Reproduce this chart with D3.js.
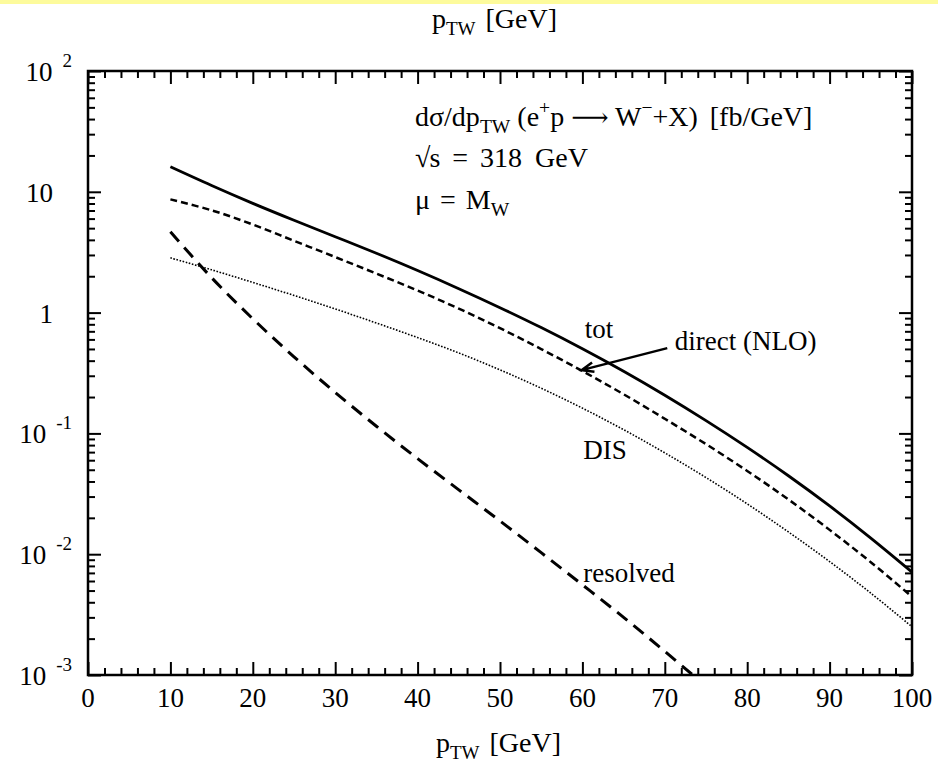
<!DOCTYPE html>
<html>
<head>
<meta charset="utf-8">
<script src="https://cdn.jsdelivr.net/npm/d3@7"></script>
<style>
  body { margin: 0; background: #fff; }
  svg { display: block; font-family: "Liberation Serif", "Times New Roman", serif; }
</style>
</head>
<body>
<div id="chart"></div>
<script>
// values: p_TW [GeV] and dsigma/dp_TW [fb/GeV]
const pT = [10, 15, 20, 25, 30, 35, 40, 45, 50, 55, 60, 65, 70, 75, 80, 85, 90, 95, 100];
const tot = [16.1, 11.27, 8.02, 5.81, 4.25, 3.10, 2.23, 1.578, 1.099, 0.752, 0.502, 0.327, 0.207, 0.1276, 0.0766, 0.0446, 0.0251, 0.0136, 0.00711];
const direct = [8.65, 7.03, 5.36, 3.93, 2.884, 2.104, 1.524, 1.079, 0.743, 0.499, 0.328, 0.211, 0.1321, 0.0815, 0.0489, 0.0284, 0.0159, 0.00859, 0.00444];
const dis = [2.84, 2.26, 1.778, 1.387, 1.072, 0.820, 0.621, 0.4634, 0.3357, 0.2366, 0.1618, 0.1074, 0.0690, 0.0431, 0.0261, 0.01528, 0.00869, 0.00476, 0.00251];
const resolvedPT = [10, 15, 20, 25, 30, 35, 40, 45, 50, 55, 60, 65, 70, 75];
const resolved = [4.67, 1.945, 0.889, 0.4305, 0.2183, 0.1146, 0.0618, 0.0341, 0.01884, 0.0103, 0.00558, 0.0030, 0.00157, 0.000807];

const xTicks = [0, 10, 20, 30, 40, 50, 60, 70, 80, 90, 100];
const yDecades = [1e-3, 1e-2, 1e-1, 1, 10, 100];
const yBase = ["10", "10", "10", "1", "10", "10"];
const yExp = ["-3", "-2", "-1", "", "", "2"];

// curve labels, placed in data coordinates
const curveLabels = [
    { text: "tot", p: 60.3, v: 0.615 },
    { text: "direct (NLO)", p: 71.2, v: 0.49 },
    { text: "DIS", p: 60.1, v: 0.0612 },
    { text: "resolved", p: 60.1, v: 0.00588 }
];
// arrow from the "direct (NLO)" label to its curve
const arrowFrom = { p: 70.3, v: 0.508 },
      arrowTo = { p: 59.9, v: 0.334 };

const width = 938, height = 765;
const padLeft = 88, padRight = 912, padTop = 71, padBottom = 675;

const svg = d3.select("#chart").append("svg")
    .attr("width", width)
    .attr("height", height);

// thin yellow band along the top edge
svg.append("rect")
    .attr("x", 0).attr("y", 0)
    .attr("width", width).attr("height", 4)
    .attr("fill", "#fdfb9c");

// scales
// ------------------------------------------------------
const x = d3.scaleLinear().domain([0, 100]).range([padLeft, padRight]);
const y = d3.scaleLog().domain([1e-3, 1e2]).range([padBottom, padTop]);

// axes (all ticks point inwards)
// ------------------------------------------------------
const xMinor = d3.range(2, 100, 2).filter(v => v % 10 !== 0);
const yMinor = [];
yDecades.slice(0, -1).forEach(d => { for (let k = 2; k <= 9; k++) yMinor.push(d * k); });

function addAxis(axis, tx, ty) {
    const g = svg.append("g")
        .attr("transform", `translate(${tx},${ty})`)
        .call(axis);
    g.select(".domain").remove();
    g.selectAll(".tick line").attr("stroke", "#000").attr("stroke-width", 2);
    g.selectAll(".tick text").remove();
    return g;
}

addAxis(d3.axisBottom(x).tickValues(xTicks).tickSize(-13), 0, padBottom);
addAxis(d3.axisBottom(x).tickValues(xMinor).tickSize(-7), 0, padBottom);
addAxis(d3.axisTop(x).tickValues(xTicks).tickSize(-13), 0, padTop);
addAxis(d3.axisTop(x).tickValues(xMinor).tickSize(-7), 0, padTop);
addAxis(d3.axisLeft(y).tickValues(yDecades).tickSize(-13), padLeft, 0);
addAxis(d3.axisLeft(y).tickValues(yMinor).tickSize(-7), padLeft, 0);
addAxis(d3.axisRight(y).tickValues(yDecades).tickSize(-13), padRight, 0);
addAxis(d3.axisRight(y).tickValues(yMinor).tickSize(-7), padRight, 0);

// frame
svg.append("rect")
    .attr("x", padLeft).attr("y", padTop)
    .attr("width", padRight - padLeft).attr("height", padBottom - padTop)
    .attr("fill", "none")
    .attr("stroke", "#000")
    .attr("stroke-width", 2.5);

// tick labels
svg.append("g").selectAll("text")
    .data(xTicks)
    .join("text")
        .attr("x", d => x(d))
        .attr("y", padBottom + 32)
        .attr("text-anchor", "middle")
        .attr("font-size", 27)
        .text(d => d);

const yLabelG = svg.append("g");
yDecades.forEach((d, i) => {
    const t = yLabelG.append("text")
        .attr("x", yExp[i] ? padLeft - 16 : padLeft - 35)
        .attr("y", y(d) + 10)
        .attr("text-anchor", "end")
        .attr("font-size", 27);
    t.append("tspan").text(yBase[i]);
    if (yExp[i]) {
        t.append("tspan")
            .attr("dx", 10)
            .attr("dy", -14)
            .attr("font-size", 19)
            .text(yExp[i]);
    }
});

// rich text helper: parts with optional sub/sup, size and horizontal nudge
function richText(g, parts, size) {
    const t = g.append("text").attr("font-size", size);
    let shift = 0;
    parts.forEach(part => {
        const target = part.sub ? 7 : part.sup ? -12 : (part.dy || 0);
        const span = t.append("tspan")
            .attr("dx", part.dx || 0)
            .attr("dy", target - shift)
            .attr("font-size", part.size || (part.sub || part.sup ? size * 0.7 : size))
            .text(part.t);
        if (part.font) span.attr("font-family", part.font);
        shift = target;
    });
    return t;
}

// axis titles, top and bottom
const axisTitle = [{ t: "p" }, { t: "TW", sub: true, size: 19 }, { t: " [GeV]", dx: 3 }];
richText(svg.append("g").attr("transform", "translate(432,28)"), axisTitle, 28);
richText(svg.append("g").attr("transform", "translate(436,752)"), axisTitle, 28);

// legend block
const legend = svg.append("g").attr("transform", "translate(415,0)");
richText(legend.append("g").attr("transform", "translate(0,126)"), [
    { t: "dσ/dp" }, { t: "TW", sub: true }, { t: " (e" }, { t: "+", sup: true },
    { t: "p " }, { t: "⟶", font: "DejaVu Serif", size: 26 }, { t: " W" }, { t: "−", sup: true },
    { t: "+X)" }, { t: " [fb/GeV]", dx: 5 }
], 28);
richText(legend.append("g").attr("transform", "translate(0,167)"), [
    { t: "√" }, { t: "s", dx: -1 }, { t: " = ", dx: 5 }, { t: "318", dx: 5 }, { t: " GeV", dx: 6 }
], 28);
richText(legend.append("g").attr("transform", "translate(0,209)"), [
    { t: "μ" }, { t: " = ", dx: 3 }, { t: "M", dx: 3 }, { t: "W", sub: true }
], 28);

// curves
// ------------------------------------------------------
svg.append("clipPath").attr("id", "plotArea")
    .append("rect")
        .attr("x", padLeft).attr("y", padTop)
        .attr("width", padRight - padLeft).attr("height", padBottom - padTop);

const line = d3.line()
    .x(d => x(d[0]))
    .y(d => y(d[1]))
    .curve(d3.curveCatmullRom.alpha(0.5));

const curves = [
    { xs: pT, ys: tot, width: 2.8, dash: null },
    { xs: pT, ys: direct, width: 2.5, dash: "7,4" },
    { xs: pT, ys: dis, width: 1.6, dash: "1.6,1.6" },
    { xs: resolvedPT, ys: resolved, width: 3, dash: "13,8" }
];

svg.append("g")
    .attr("clip-path", "url(#plotArea)")
    .selectAll("path")
    .data(curves)
    .join("path")
        .attr("d", c => line(c.xs.map((p, i) => [p, c.ys[i]])))
        .attr("fill", "none")
        .attr("stroke", "#000")
        .attr("stroke-width", c => c.width)
        .attr("stroke-dasharray", c => c.dash);

svg.append("g").selectAll("text")
    .data(curveLabels)
    .join("text")
        .attr("x", d => x(d.p))
        .attr("y", d => y(d.v))
        .attr("font-size", 27)
        .text(d => d.text);

// arrow
const ax0 = x(arrowFrom.p), ay0 = y(arrowFrom.v),
      ax1 = x(arrowTo.p), ay1 = y(arrowTo.v);
const ang = Math.atan2(ay1 - ay0, ax1 - ax0), head = 13, spread = 0.38;
svg.append("path")
    .attr("d", `M${ax0},${ay0}L${ax1},${ay1}` +
        `M${ax1 - head * Math.cos(ang - spread)},${ay1 - head * Math.sin(ang - spread)}` +
        `L${ax1},${ay1}` +
        `L${ax1 - head * Math.cos(ang + spread)},${ay1 - head * Math.sin(ang + spread)}`)
    .attr("fill", "none")
    .attr("stroke", "#000")
    .attr("stroke-width", 2.5);
</script>
</body>
</html>
